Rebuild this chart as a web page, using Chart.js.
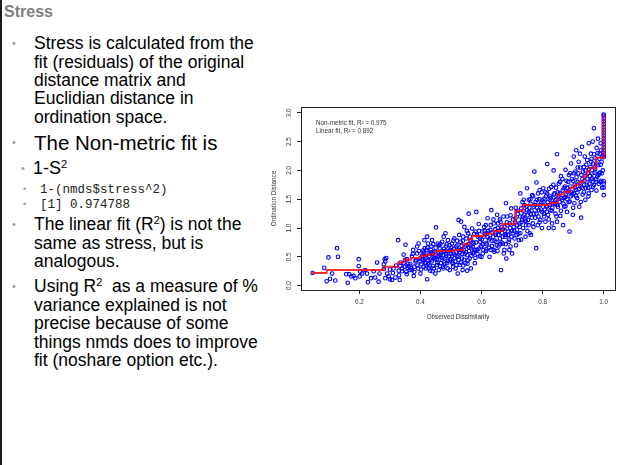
<!DOCTYPE html>
<html>
<head>
<meta charset="utf-8">
<script src="https://cdn.jsdelivr.net/npm/chart.js@4.4.0/dist/chart.umd.min.js"></script>
<style>
  html, body { margin: 0; padding: 0; background: #fff; }
  body { width: 626px; height: 465px; position: relative; overflow: hidden;
         font-family: "Liberation Sans", Arial, sans-serif; color: #000; }
  .edge { position: absolute; left: 0; top: 0; width: 2px; height: 465px; background: #1a1a1a; }
  .ln { position: absolute; white-space: nowrap; line-height: 1; }
  .title { font-size: 16px; font-weight: bold; color: #7f7f7f; left: 4px; top: 4px; }
  .l1 { font-size: 17.5px; left: 34px; }
  .big { font-size: 20.5px; left: 34px; }
  .l2 { font-size: 18px; left: 33px; }
  .code { font-family: "Liberation Mono", "Courier New", monospace; font-size: 12.5px; left: 40px; color: #222; }
  .dot { position: absolute; color: #a0a0a0; font-size: 11px; line-height: 1; }
  sup { font-size: 0.62em; vertical-align: 0.55em; line-height: 0; }
  #wrap { position: absolute; left: 262px; top: 96px; width: 362px; height: 236px; }
</style>
</head>
<body>
<div class="edge"></div>
<div class="ln title">Stress</div>

<div class="dot" style="left:12px;top:38px">•</div>
<div class="ln l1" style="top:35.4px">Stress is calculated from the</div>
<div class="ln l1" style="top:53.7px">fit (residuals) of the original</div>
<div class="ln l1" style="top:72px">distance matrix and</div>
<div class="ln l1" style="top:90.3px">Euclidian distance in</div>
<div class="ln l1" style="top:108.6px">ordination space.</div>

<div class="dot" style="left:12px;top:137px">•</div>
<div class="ln big" style="top:133px">The Non-metric fit is</div>

<div class="dot" style="left:21px;top:163px">•</div>
<div class="ln l2" style="top:159px">1-S<sup>2</sup></div>

<div class="dot" style="left:23px;top:185px;font-size:9px">•</div>
<div class="ln code" style="top:184px">1-(nmds$stress^2)</div>
<div class="dot" style="left:23px;top:200px;font-size:9px">•</div>
<div class="ln code" style="top:199px">[1] 0.974788</div>

<div class="dot" style="left:12px;top:219px">•</div>
<div class="ln l1" style="top:216.4px">The linear fit (R<sup>2</sup>) is not the</div>
<div class="ln l1" style="top:234.9px">same as stress, but is</div>
<div class="ln l1" style="top:253.4px">analogous.</div>

<div class="dot" style="left:12px;top:281px">•</div>
<div class="ln l1" style="top:278.4px">Using R<sup>2</sup>&nbsp; as a measure of %</div>
<div class="ln l1" style="top:296.9px">variance explained is not</div>
<div class="ln l1" style="top:315.4px">precise because of some</div>
<div class="ln l1" style="top:333.9px">things nmds does to improve</div>
<div class="ln l1" style="top:352.4px">fit (noshare option etc.).</div>

<div id="wrap"><canvas id="c" width="362" height="236"></canvas></div>

<script>
// tick labels
const xTicks = [0.2, 0.4, 0.6, 0.8, 1.0];
const yTicks = [0, 0.5, 1.0, 1.5, 2.0, 2.5, 3.0];
const fitLabels = ['Non-metric fit, R\u00b2 = 0.975', 'Linear fit, R\u00b2 = 0.892'];

// observed dissimilarity vs ordination distance
const lowPts = [
  [0.047,0.22],[0.085,0.31],[0.099,0.49],[0.093,0.075],[0.104,0.12],[0.111,0.21],[0.121,0.09],
  [0.127,0.65],[0.13,0.50],[0.157,0.20],[0.162,0.05],[0.167,0.20],[0.174,0.16],[0.181,0.17],
  [0.187,0.13],[0.198,0.46],[0.198,0.34],[0.201,0.16],[0.203,0.24],[0.209,0.21],[0.219,0.27],
  [0.225,0.21],[0.228,0.06],[0.238,0.13],[0.247,0.25],[0.252,0.14],[0.258,0.40],[0.263,0.07],
  [0.266,0.21],[0.28,0.29],[0.283,0.46],[0.285,0.42],[0.28,0.37],[0.288,0.48],[0.291,0.21],
  [0.285,0.13],[0.296,0.16],[0.30,0.11],[0.307,0.10],[0.312,0.30],[0.318,0.14],[0.327,0.79],
  [0.329,0.26],[0.332,0.10],[0.334,0.34],[0.34,0.30],[0.345,0.54],[0.345,0.39],[0.348,0.33],
  [0.351,0.71],[0.354,0.24],[0.356,0.46],[0.358,0.31],[0.362,0.34],[0.365,0.27],[0.367,0.38],
  [0.372,0.51],[0.372,0.27],[0.376,0.62],[0.378,0.17],[0.38,0.33],[0.384,0.42],[0.389,0.56],
  [0.389,0.68],[0.392,0.30],[0.394,0.73],[0.398,0.47],[0.40,0.21],
  [0.30,0.28],[0.31,0.22],[0.32,0.35],[0.33,0.18],[0.335,0.40],[0.34,0.25],[0.35,0.45],
  [0.355,0.20],[0.36,0.38],[0.37,0.30],[0.375,0.55],[0.38,0.24],[0.385,0.44],[0.39,0.35],
  [0.395,0.60],[0.40,0.42]
];
const midPts = [
  [0.403,0.37],[0.405,0.46],[0.408,0.61],[0.411,0.33],[0.413,0.79],[0.414,0.65],[0.416,0.51],
  [0.418,0.39],[0.422,0.11],[0.422,0.85],[0.425,0.73],[0.427,0.30],[0.43,0.56],[0.433,0.45],
  [0.436,0.68],[0.438,0.79],[0.441,0.34],[0.443,0.50],[0.447,0.59],[0.449,0.21],[0.451,1.01],
  [0.454,0.45],[0.457,0.73],[0.46,0.27],[0.463,0.65],[0.465,0.53],[0.467,0.39],[0.471,0.76],
  [0.474,0.33],[0.476,0.85],[0.476,0.59],[0.479,0.47],[0.482,0.91],[0.484,0.68],[0.487,0.39],
  [0.49,0.79],[0.493,0.51],[0.496,0.27],[0.498,0.62],[0.50,0.46],[0.503,0.73],[0.507,0.33],
  [0.509,0.56],[0.511,0.82],[0.514,0.42],[0.517,0.68],[0.52,0.50],[0.522,0.21],[0.525,1.14],
  [0.525,0.62],[0.529,0.36],[0.531,0.76],[0.533,1.11],[0.536,0.47],[0.538,0.27],[0.54,0.85],
  [0.542,0.62],[0.544,1.02],[0.547,0.39],[0.55,0.70],[0.553,0.53],[0.553,0.26],[0.556,0.91],
  [0.558,1.25],[0.561,0.47],[0.564,0.79],[0.566,0.65],[0.569,0.99],[0.572,0.56],[0.574,0.73],
  [0.578,0.39],[0.58,0.94],[0.583,1.28],[0.585,0.62],[0.588,0.85],[0.591,1.07],[0.594,0.51],
  [0.596,0.76],[0.60,0.68],[0.602,0.94],[0.604,0.56],[0.607,0.85],[0.609,1.02],[0.613,0.73],
  [0.616,0.63],[0.618,0.91],[0.62,1.17],[0.624,0.79],[0.626,0.50],[0.629,0.97],[0.632,1.31],
  [0.634,0.69],[0.638,0.85],[0.64,1.08],[0.642,0.59],[0.645,0.91],[0.649,0.76],[0.651,1.23],
  [0.653,1.00],[0.656,0.68],[0.66,0.82],[0.662,1.11],[0.664,0.27],[0.667,0.92],[0.67,0.73],
  [0.673,0.56],[0.675,1.02],[0.678,0.85],[0.68,1.43],[0.681,0.47],[0.684,1.20],[0.686,0.94],
  [0.689,0.76],[0.692,1.08],[0.695,0.68],[0.697,1.34],[0.70,0.56],
  [0.41,0.55],[0.415,0.40],[0.42,0.62],[0.425,0.44],[0.43,0.35],[0.435,0.58],[0.44,0.25],
  [0.445,0.48],[0.45,0.66],[0.455,0.36],[0.46,0.52],[0.465,0.72],[0.47,0.45],[0.475,0.30],
  [0.48,0.60],[0.485,0.52],[0.49,0.43],[0.495,0.70],[0.50,0.55],[0.505,0.40],[0.51,0.64],
  [0.515,0.30],[0.52,0.78],[0.525,0.45],[0.53,0.58],[0.535,0.69],[0.54,0.35],[0.545,0.55],
  [0.55,0.82],[0.555,0.44],[0.56,0.66],[0.565,0.30],[0.57,0.75],[0.575,0.58],[0.58,0.48],
  [0.585,0.88],[0.59,0.64],[0.595,0.82],[0.60,0.50],[0.605,0.72],[0.61,0.95],[0.615,0.60],
  [0.62,0.84],[0.625,0.66],[0.63,1.05],[0.635,0.78],[0.64,0.62],[0.645,0.98],[0.65,0.70],
  [0.655,0.88],[0.66,1.15],[0.665,0.75],[0.67,0.98],[0.675,0.62],[0.68,0.88],[0.685,1.05],
  [0.69,0.80],[0.695,1.22],[0.70,0.95]
];
const highPts = [
  [0.702,0.91],[0.705,1.02],[0.708,0.82],[0.711,1.17],[0.713,0.70],[0.716,0.97],[0.719,1.25],
  [0.722,0.79],[0.724,1.08],[0.727,1.60],[0.727,0.91],[0.73,1.34],[0.733,1.14],[0.736,1.00],
  [0.738,1.49],[0.74,1.23],[0.744,0.85],[0.746,1.05],[0.749,1.69],[0.749,1.31],[0.752,1.14],
  [0.755,1.49],[0.758,0.91],[0.76,1.25],[0.762,0.88],[0.766,1.57],[0.768,1.08],[0.771,1.37],
  [0.773,1.98],[0.776,1.18],[0.779,0.65],[0.78,1.79],[0.782,1.49],[0.784,1.05],[0.787,1.31],
  [0.79,1.66],[0.793,1.14],[0.795,1.43],[0.798,1.00],[0.802,1.69],[0.804,1.25],[0.806,1.51],
  [0.809,1.11],[0.812,1.37],[0.815,2.11],[0.815,1.60],[0.818,1.23],[0.82,1.00],[0.823,1.49],
  [0.826,1.31],[0.828,1.71],[0.831,1.08],[0.834,1.43],[0.836,2.00],[0.836,1.00],[0.839,1.60],
  [0.842,1.25],[0.845,1.50],[0.847,2.28],[0.847,1.11],[0.85,1.37],[0.853,1.77],[0.856,1.60],
  [0.858,1.21],[0.86,1.90],[0.864,1.49],[0.867,1.05],[0.869,1.69],[0.871,1.37],[0.875,2.01],
  [0.875,1.54],[0.878,1.82],[0.88,1.28],[0.882,1.63],[0.886,1.92],[0.888,0.94],[0.889,1.46],
  [0.891,1.72],[0.893,2.12],[0.897,1.58],[0.899,1.23],[0.90,1.82],[0.902,2.24],[0.904,1.43],
  [0.907,1.98],[0.909,1.66],[0.91,2.35],[0.913,1.52],[0.915,1.80],[0.918,2.15],[0.92,1.37],
  [0.922,2.29],[0.924,1.72],[0.926,1.18],[0.927,1.92],[0.929,2.41],[0.931,1.58],[0.935,2.06],
  [0.937,1.82],[0.938,2.24],[0.94,1.49],[0.942,1.69],[0.946,2.18],[0.948,1.95],[0.951,2.47],
  [0.951,1.60],[0.953,1.77],[0.956,2.06],[0.958,2.29],[0.96,1.66],[0.962,1.86],[0.964,2.50],
  [0.965,2.12],[0.968,2.73],[0.968,1.75],[0.97,1.96],[0.973,2.21],[0.976,1.65],[0.977,2.39],
  [0.979,1.89],[0.981,2.55],[0.982,2.09],[0.984,1.77],[0.987,2.29],[0.988,1.96],[0.99,2.47],
  [0.992,1.82],[0.993,2.15],
  [0.71,1.10],[0.715,0.88],[0.72,1.30],[0.725,1.02],[0.73,0.80],[0.735,1.20],[0.74,1.40],
  [0.745,1.12],[0.75,0.95],[0.755,1.28],[0.76,1.50],[0.765,1.18],[0.77,1.02],[0.775,1.40],
  [0.78,1.25],[0.785,1.60],[0.79,1.10],[0.795,1.32],[0.80,1.48],[0.805,1.20],[0.81,1.62],
  [0.815,1.38],[0.82,1.15],[0.825,1.55],[0.83,1.30],[0.835,1.75],[0.84,1.42],[0.845,1.20],
  [0.85,1.62],[0.855,1.45],[0.86,1.30],[0.865,1.85],[0.87,1.52],[0.875,1.38],[0.88,1.70],
  [0.885,1.45],[0.89,1.95],[0.895,1.62],[0.90,1.35],[0.905,1.75],[0.91,1.55],[0.915,2.05],
  [0.92,1.68],[0.925,1.45],[0.93,1.85],[0.935,1.62],[0.94,2.00],[0.945,1.75],[0.95,1.55],
  [0.955,1.90],[0.96,2.20],[0.965,1.72],[0.97,2.05],[0.975,1.85],[0.98,2.30],[0.985,1.95],
  [0.99,2.10],[0.995,1.70],[0.997,2.00]
];
// the thick core of the cloud
const densePts = [
  [0.402,0.28],[0.406,0.52],[0.409,0.44],[0.412,0.58],[0.417,0.30],[0.419,0.48],[0.423,0.66],
  [0.426,0.38],[0.429,0.52],[0.432,0.26],[0.434,0.62],[0.437,0.42],[0.439,0.55],[0.442,0.72],
  [0.444,0.30],[0.448,0.46],[0.452,0.58],[0.456,0.40],[0.458,0.50],[0.461,0.70],[0.464,0.34],
  [0.468,0.56],[0.472,0.48],[0.477,0.64],[0.481,0.38],[0.483,0.55],[0.486,0.72],[0.489,0.30],
  [0.492,0.60],[0.497,0.44],
  [0.501,0.66],[0.504,0.52],[0.506,0.38],[0.508,0.78],[0.512,0.48],[0.516,0.58],[0.518,0.36],
  [0.521,0.70],[0.524,0.52],[0.527,0.88],[0.532,0.40],[0.534,0.62],[0.537,0.55],[0.539,0.78],
  [0.543,0.45],[0.546,0.68],[0.549,0.58],[0.552,0.95],[0.554,0.38],[0.557,0.72],[0.559,0.60],
  [0.562,0.85],[0.567,0.52],[0.571,0.68],[0.576,0.90],[0.579,0.62],[0.582,0.75],[0.587,0.55],
  [0.592,0.95],[0.597,0.68],
  [0.601,0.80],[0.606,0.62],[0.611,0.90],[0.614,1.05],[0.617,0.72],[0.622,0.95],[0.627,0.82],
  [0.631,0.62],[0.636,0.92],[0.639,1.15],[0.643,0.78],[0.647,0.88],[0.652,0.60],[0.654,1.08],
  [0.658,0.95],[0.661,0.72],[0.666,1.02],[0.669,0.85],[0.672,1.20],[0.677,0.95],[0.679,0.72],
  [0.683,1.10],[0.687,0.88],[0.691,0.62],[0.694,1.00],[0.698,0.85],
  [0.703,1.15],[0.707,0.95],[0.712,1.35],[0.717,1.05],[0.721,0.90],[0.726,1.20],[0.731,1.10],
  [0.734,1.45],[0.737,1.30],[0.742,1.15],[0.747,1.38],[0.751,1.22],[0.754,1.05],[0.757,1.35],
  [0.761,1.42],[0.764,1.30],[0.769,1.55],[0.772,1.25],[0.777,1.45],[0.781,1.35],[0.786,1.20],
  [0.789,1.50],[0.792,1.40],[0.797,1.62],[0.799,1.28],
  [0.803,1.45],[0.807,1.32],[0.811,1.55],[0.814,1.28],[0.817,1.45],[0.821,1.68],[0.824,1.40],
  [0.827,1.52],[0.832,1.35],[0.837,1.58],[0.841,1.48],[0.844,1.70],[0.848,1.40],[0.852,1.55],
  [0.857,1.80],[0.861,1.52],[0.866,1.65],[0.868,1.42],[0.873,1.72],[0.877,1.58],[0.881,1.50],
  [0.884,1.80],[0.887,1.65],[0.892,1.55],[0.896,1.85],
  [0.901,1.60],[0.903,1.95],[0.906,1.70],[0.911,1.88],[0.914,1.62],[0.917,1.95],[0.921,1.78],
  [0.923,2.05],[0.928,1.70],[0.932,1.98],[0.936,1.75],[0.939,1.90],[0.943,2.10],[0.947,1.85],
  [0.949,1.70],[0.952,2.02],[0.957,1.85],[0.959,2.15],[0.963,1.95],[0.966,1.80],[0.969,2.28],
  [0.972,2.02],[0.974,1.80],[0.978,2.12],[0.983,1.92],[0.986,2.20],[0.989,1.80],[0.991,2.35],
  [0.994,1.95],[0.996,2.25]
];
// pairs at full dissimilarity (x = 1.0)
const edgeY = [1.57,1.70,1.77,1.81,2.23,2.26,2.30,2.35,2.40,2.45,2.50,2.55,2.60,2.65,
               2.70,2.75,2.80,2.85,2.90,2.95,2.97];

// monotone (non-metric) fit, step breakpoints
const fitX = [0.047,0.093,0.28,0.327,0.345,0.37,0.40,0.42,0.45,0.51,0.54,0.56,0.57,0.61,
              0.64,0.67,0.71,0.735,0.825,0.85,0.87,0.89,0.905,0.92,0.935,0.945,0.955,0.975,1.0,1.0];
const fitY = [0.20,0.22,0.27,0.33,0.40,0.45,0.48,0.52,0.54,0.60,0.62,0.72,0.81,0.86,
              0.90,0.95,1.07,1.30,1.40,1.44,1.58,1.63,1.70,1.75,1.80,1.90,1.98,2.04,2.22,2.97];

const FONT = '"Liberation Sans", Arial, sans-serif';
Chart.defaults.font.family = FONT;

const points = lowPts.concat(midPts, highPts, densePts).map(p => ({ x: p[0], y: p[1] }))
  .concat(edgeY.map(v => ({ x: 1.0, y: v })));

// R-like box, vertical y labels and the fit text
const rStyle = {
  id: 'rStyle',
  afterDraw(chart) {
    const { ctx, chartArea: a } = chart;
    const y = chart.scales.y;
    ctx.save();
    ctx.strokeStyle = '#222';
    ctx.lineWidth = 1;
    ctx.strokeRect(Math.round(a.left) + 0.5, Math.round(a.top) + 0.5,
                   Math.round(a.right - a.left), Math.round(a.bottom - a.top));
    ctx.fillStyle = '#333';
    ctx.font = '6.3px ' + FONT;
    ctx.textAlign = 'center';
    ctx.textBaseline = 'middle';
    y.ticks.forEach(t => {
      ctx.save();
      ctx.translate(a.left - 12, y.getPixelForValue(t.value));
      ctx.rotate(-Math.PI / 2);
      ctx.fillText(t.value.toFixed(1), 0, 0);
      ctx.restore();
    });
    ctx.textAlign = 'left';
    fitLabels.forEach((s, i) => ctx.fillText(s, a.left + 15, a.top + 16 + i * 8.7));
    ctx.restore();
  }
};

new Chart(document.getElementById('c'), {
  data: {
    datasets: [
      {
        type: 'line',
        data: fitX.map((v, i) => ({ x: v, y: fitY[i] })),
        stepped: 'after',
        borderColor: 'rgba(255,0,0,0.8)',
        borderWidth: 2,
        pointRadius: 0,
        fill: false,
        order: 0
      },
      {
        type: 'scatter',
        data: points,
        pointStyle: 'circle',
        pointRadius: 1.8,
        pointBorderWidth: 1.1,
        borderColor: '#0000ff',
        backgroundColor: 'rgba(0,0,0,0)',
        order: 1
      }
    ]
  },
  options: {
    responsive: false,
    animation: false,
    events: [],
    layout: { padding: { left: 0, top: 11, right: 9, bottom: 10 } },
    plugins: { legend: { display: false }, tooltip: { enabled: false } },
    scales: {
      x: {
        type: 'linear',
        min: 0.009,
        max: 1.037,
        afterBuildTicks: s => { s.ticks = xTicks.map(v => ({ value: v })); },
        afterFit: s => { s.height = 32; },
        ticks: { color: '#333', font: { size: 6.3 }, padding: 4, maxRotation: 0,
                 autoSkip: false, callback: v => v.toFixed(1) },
        grid: { drawOnChartArea: false, drawTicks: true, tickLength: 4, tickColor: '#222' },
        border: { display: false },
        title: { display: true, text: 'Observed Dissimilarity', color: '#333',
                 font: { size: 6.3 }, padding: { top: 0, bottom: 1 } }
      },
      y: {
        type: 'linear',
        min: -0.075,
        max: 3.10,
        afterBuildTicks: s => { s.ticks = yTicks.map(v => ({ value: v })); },
        afterFit: s => { s.width = 39; },
        ticks: { color: 'rgba(0,0,0,0)', font: { size: 6.3 }, callback: v => v.toFixed(1) },
        grid: { drawOnChartArea: false, drawTicks: true, tickLength: 4, tickColor: '#222' },
        border: { display: false },
        title: { display: true, text: 'Ordination Distance', color: '#333',
                 font: { size: 6.3 }, padding: { top: 8, bottom: 0 } }
      }
    }
  },
  plugins: [rStyle]
});
</script>
</body>
</html>
